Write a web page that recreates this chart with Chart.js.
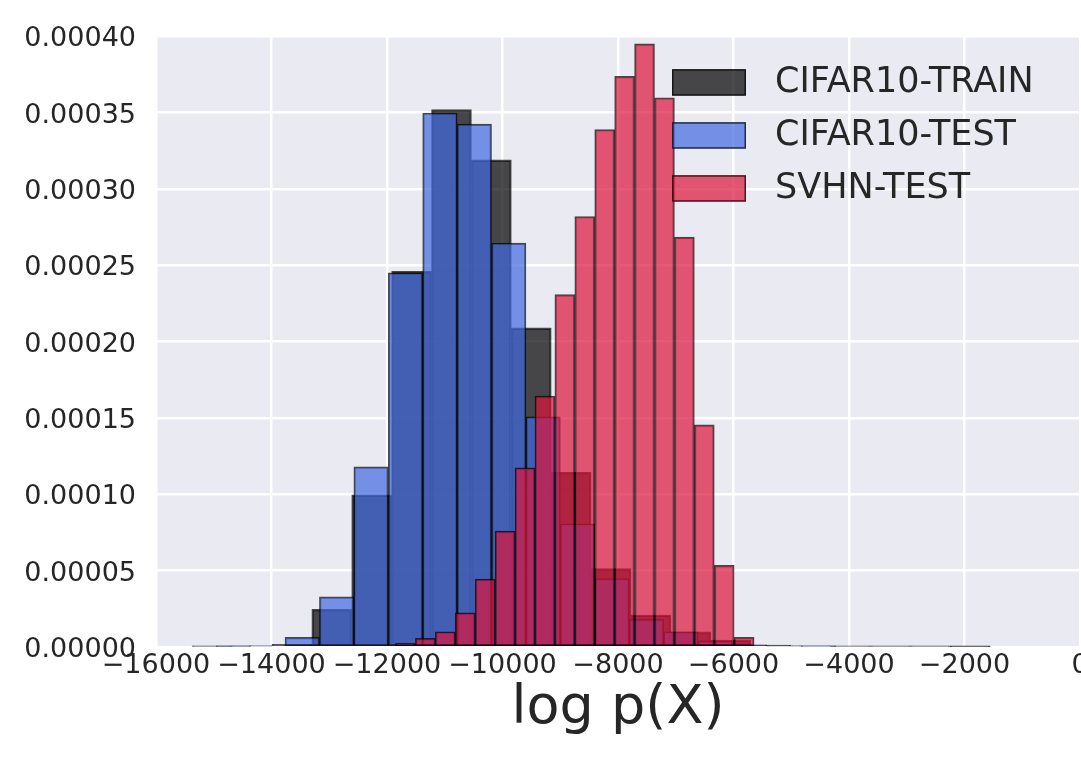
<!DOCTYPE html>
<html>
<head>
<meta charset="utf-8">
<script src="https://cdn.jsdelivr.net/npm/chart.js@4.4.1/dist/chart.umd.min.js"></script>
<style>
  html, body { margin: 0; padding: 0; background: #fff; overflow: hidden; }
  #wrap { width: 1092px; height: 767px; }
</style>
</head>
<body>
<div id="wrap"><canvas id="histChart"></canvas></div>
<script>
// Histogramme: linke Kante des ersten Bins, Bin-Breite und Dichten
const trainStart = -15375;
const trainWidth = 691;
const trainDensity = [0.0000003, 0.0000005, 0.0000018, 0.0000246, 0.0000996, 0.000246, 0.000352, 0.000319,
  0.000209, 0.0001144, 0.0000513, 0.0000209, 0.00001, 0.0000045, 0.0000013, 0.0000007,
  0.0000004, 0.0000003, 0.0000003, 0.0000002];

const testStart = -14958;
const testWidth = 596;
const testDensity = [0.0000003, 0.0000008, 0.0000063, 0.0000328, 0.000118, 0.000245, 0.0003497, 0.0003424,
  0.0002645, 0.0001507, 0.0000807, 0.0000448, 0.0000181, 0.00001, 0.000004, 0.0000015,
  0.0000005, 0.0000003];

const svhnStart = -11853;
const svhnWidth = 345;
const svhnDensity = [0.0000024, 0.0000057, 0.00001, 0.0000224, 0.0000444, 0.0000759, 0.0001173, 0.0001644,
  0.0002308, 0.0002819, 0.0003389, 0.0003737, 0.000395, 0.0003597, 0.0002684, 0.0001455,
  0.0000535, 0.0000063];

const seriesLabels = ["CIFAR10-TRAIN", "CIFAR10-TEST", "SVHN-TEST"];
const xTicks = { min: -16000, max: 0, step: 2000 };
const yTicks = { min: 0, max: 0.0004, step: 0.00005 };

const TEXT = "#262626";
const FONT = '"DejaVu Sans", sans-serif';

// Bin-Mitten als {x, y} für die lineare x-Achse
function toBins(start, width, values) {
  return values.map((v, i) => ({ x: start + width * (i + 0.5), y: v }));
}

// Hintergrund der Plotfläche (seaborn darkgrid)
const plotBackground = {
  id: "plotBackground",
  beforeDraw(chart) {
    const { ctx, chartArea: a } = chart;
    ctx.save();
    ctx.fillStyle = "#EAEAF2";
    ctx.fillRect(a.left, a.top, a.width, a.height);
    ctx.restore();
  }
};

// Legende innerhalb der Plotfläche oben rechts, ohne Rahmen
const insideLegend = {
  id: "insideLegend",
  afterDatasetsDraw(chart) {
    const { ctx, chartArea } = chart;
    const x0 = chartArea.right - 408;
    const y0 = chartArea.top + 33;
    ctx.save();
    ctx.font = "35px " + FONT;
    ctx.textBaseline = "middle";
    chart.data.datasets.forEach((ds, i) => {
      const y = y0 + i * 53;
      ctx.fillStyle = ds.backgroundColor;
      ctx.fillRect(x0, y, 74, 26.5);
      ctx.strokeStyle = ds.borderColor;
      ctx.lineWidth = 1.5;
      ctx.strokeRect(x0 + 0.75, y + 0.75, 72.5, 25);
      ctx.fillStyle = TEXT;
      ctx.fillText(ds.label, x0 + 103, y + 14);
    });
    ctx.restore();
  }
};

function hiddenX() {
  return {
    type: "linear", display: false, offset: false,
    min: xTicks.min, max: xTicks.max,
    ticks: { stepSize: xTicks.step },
    grid: { offset: false }
  };
}

const barStyle = {
  grouped: false,
  barPercentage: 1,
  categoryPercentage: 1,
  borderWidth: 1.5,
  borderSkipped: false,
  borderColor: "rgba(0,0,0,0.7)"
};

new Chart(document.getElementById("histChart"), {
  type: "bar",
  data: {
    datasets: [
      { ...barStyle, label: seriesLabels[0], data: toBins(trainStart, trainWidth, trainDensity),
        backgroundColor: "rgba(0,0,0,0.7)", xAxisID: "x", order: 3 },
      { ...barStyle, label: seriesLabels[1], data: toBins(testStart, testWidth, testDensity),
        backgroundColor: "rgba(65,105,225,0.7)", xAxisID: "xTest", order: 2 },
      { ...barStyle, label: seriesLabels[2], data: toBins(svhnStart, svhnWidth, svhnDensity),
        backgroundColor: "rgba(220,20,60,0.7)", xAxisID: "xSvhn", order: 1 }
    ]
  },
  options: {
    responsive: true,
    maintainAspectRatio: false,
    animation: false,
    layout: { padding: { left: 22, right: 12, top: 33.5, bottom: 0 } },
    plugins: { legend: { display: false }, tooltip: { enabled: false } },
    scales: {
      x: {
        type: "linear", offset: false,
        min: xTicks.min, max: xTicks.max,
        border: { display: false },
        grid: { color: "#FFFFFF", lineWidth: 2.5, drawTicks: false, offset: false },
        ticks: {
          stepSize: xTicks.step, autoSkip: false, maxRotation: 0, padding: 3,
          color: TEXT, font: { family: FONT, size: 27 },
          callback: v => (v < 0 ? "\u2212" + Math.abs(v) : String(v))
        },
        title: {
          display: true, text: "log p(X)", color: TEXT,
          font: { family: FONT, size: 54 }, padding: { top: 0, bottom: 26 }
        },
        afterFit: s => { s.height = 120; }
      },
      xTest: hiddenX(),
      xSvhn: hiddenX(),
      y: {
        min: yTicks.min, max: yTicks.max,
        border: { display: false },
        grid: { color: "#FFFFFF", lineWidth: 2.5, drawTicks: false },
        ticks: {
          stepSize: yTicks.step, padding: 20, labelOffset: 3,
          color: TEXT, font: { family: FONT, size: 27 },
          callback: v => v.toFixed(5)
        },
        afterFit: s => { s.width = 134; }
      }
    }
  },
  plugins: [plotBackground, insideLegend]
});
</script>
</body>
</html>
